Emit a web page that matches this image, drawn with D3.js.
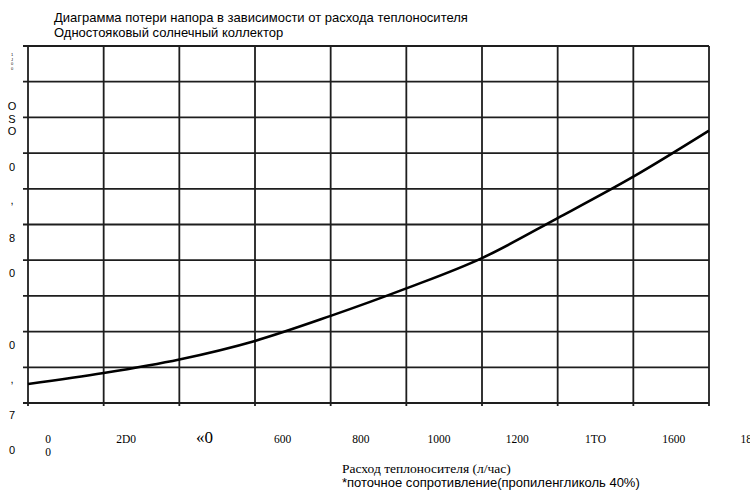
<!DOCTYPE html>
<html>
<head>
<meta charset="utf-8">
<script src="https://cdn.jsdelivr.net/npm/d3@7"></script>
<style>
  body { margin: 0; background: #fff; }
  text { fill: #000; }
</style>
</head>
<body>
<div id="chart"></div>
<script>

// flow rate (l/h) and pressure loss (10 units per gridline)
var flow = [0, 200, 400, 600, 800, 1000, 1200, 1400, 1600, 1800];
var loss = [5.3, 8.4, 12.2, 17.4, 24.4, 32.1, 40.6, 51.8, 63.4, 76.3];

var xTicks = [0, 200, 400, 600, 800, 1000, 1200, 1400, 1600, 1800];
var yTicks = [0, 10, 20, 30, 40, 50, 60, 70, 80, 90, 100];

// tick labels as they appear in the picture
var xTickLabels = ["0", "2D0", "«0", "600", "800", "1000", "1200", "1TO", "1600", "1800"];
var yTickLabels = ["1", "J", "0", "0", "O", "S", "O", "0", ",", "8", "0", "0", ",", "7", "0"];
var yTickValues = [97.6, 96.3, 95.0, 93.7, 83.1, 79.6, 76.2, 66.1, 57.0, 46.2, 36.4, 16.2, 6.8, -3.4, -13.2];

var width = 750;
var height = 498;
var plotLeft = 28, plotRight = 709, plotTop = 46, plotBottom = 403;

var svg = d3.select("#chart")
  .append("svg")
  .attr("width", width)
  .attr("height", height);

var xScale = d3.scaleLinear().domain([0, 1800]).range([plotLeft, plotRight]);
var yScale = d3.scaleLinear().domain([0, 100]).range([plotBottom, plotTop]);
// the labels under the axis sit on their own, slightly wider spacing
var xLabelScale = d3.scaleLinear().domain([0, 1800]).range([48, 752]);

// grid
svg.append("g")
  .selectAll("line")
  .data(xTicks)
  .enter().append("line")
  .attr("x1", function(d) { return xScale(d); })
  .attr("x2", function(d) { return xScale(d); })
  .attr("y1", plotTop)
  .attr("y2", plotBottom + 3)
  .attr("stroke", "#1e1e1e")
  .attr("stroke-width", 1.8);

svg.append("g")
  .selectAll("line")
  .data(yTicks)
  .enter().append("line")
  .attr("x1", plotLeft - 5)
  .attr("x2", plotRight)
  .attr("y1", function(d) { return yScale(d); })
  .attr("y2", function(d) { return yScale(d); })
  .attr("stroke", "#1e1e1e")
  .attr("stroke-width", 1.8);

// curve
var line = d3.line()
  .x(function(d, i) { return xScale(flow[i]); })
  .y(function(d) { return yScale(d); })
  .curve(d3.curveMonotoneX);

svg.append("path")
  .datum(loss)
  .attr("fill", "none")
  .attr("stroke", "#000")
  .attr("stroke-width", 2.6)
  .attr("d", line);

// x labels
svg.append("g")
  .selectAll("text")
  .data(xTicks)
  .enter().append("text")
  .attr("x", function(d) { return xLabelScale(d); })
  .attr("y", 443)
  .attr("text-anchor", "middle")
  .style("font-family", "'Liberation Serif', 'Times New Roman', serif")
  .style("font-size", function(d, i) { return i == 2 ? "17px" : "11.5px"; })
  .text(function(d, i) { return xTickLabels[i]; });

svg.append("text")
  .attr("x", xLabelScale(0))
  .attr("y", 456)
  .attr("text-anchor", "middle")
  .style("font-family", "'Liberation Serif', serif")
  .style("font-size", "11.5px")
  .text("0");

// y labels (one character per row)
svg.append("g")
  .selectAll("text")
  .data(yTickLabels)
  .enter().append("text")
  .attr("x", 12)
  .attr("y", function(d, i) { return yScale(yTickValues[i]); })
  .attr("text-anchor", "middle")
  .attr("dominant-baseline", "central")
  .style("font-family", "'Liberation Sans', Arial, sans-serif")
  .style("font-size", function(d, i) { return i < 4 ? "4px" : "11px"; })
  .text(function(d) { return d; });

// titles
svg.append("text")
  .attr("x", 54)
  .attr("y", 22)
  .style("font-family", "'Liberation Sans', Arial, sans-serif")
  .style("font-size", "13px")
  .text("Диаграмма потери напора в зависимости от расхода теплоносителя");

svg.append("text")
  .attr("x", 54)
  .attr("y", 37)
  .style("font-family", "'Liberation Sans', Arial, sans-serif")
  .style("font-size", "13px")
  .text("Одностояковый солнечный коллектор");

svg.append("text")
  .attr("x", 342)
  .attr("y", 473)
  .style("font-family", "'Liberation Serif', 'Times New Roman', serif")
  .style("font-size", "13.5px")
  .text("Расход теплоносителя (л/час)");

svg.append("text")
  .attr("x", 342)
  .attr("y", 487)
  .style("font-family", "'Liberation Sans', Arial, sans-serif")
  .style("font-size", "13px")
  .text("*поточное сопротивление(пропиленгликоль 40%)");

</script>
</body>
</html>
